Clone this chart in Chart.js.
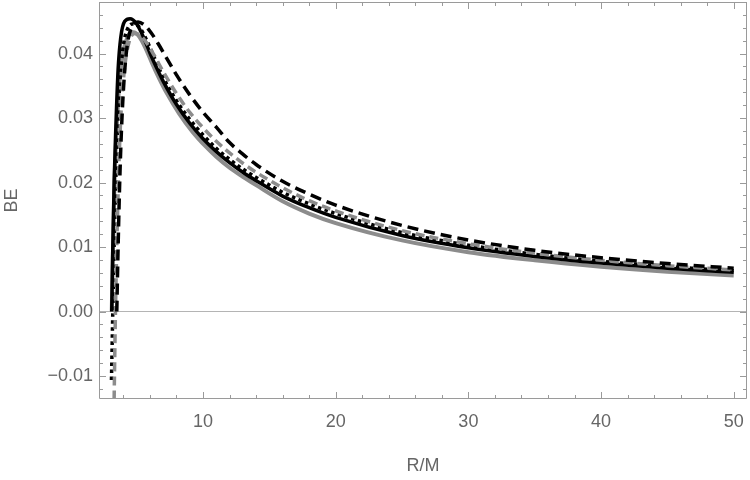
<!DOCTYPE html>
<html><head><meta charset="utf-8">
<script src="https://cdn.jsdelivr.net/npm/chart.js@4/dist/chart.umd.min.js"></script>
<style>html,body{margin:0;padding:0;background:#fff}canvas{display:block}</style>
</head><body>
<canvas id="c" width="750" height="480"></canvas>
<script>
// ---- data ----
const xTickValues = [10, 20, 30, 40, 50];
const yTickValues = [-0.01, 0.00, 0.01, 0.02, 0.03, 0.04];

// solid black
const solidBlackR  = [3.12, 3.2, 3.3, 3.42, 3.6, 3.8, 4.1, 4.5, 5, 5.5, 6, 6.5, 7, 8, 9, 10, 11, 12, 13, 14, 16, 18, 20, 25, 30, 35, 40, 45, 50];
const solidBlackBE = [0.0, 0.010, 0.020, 0.028, 0.0375, 0.0425, 0.0450, 0.0454, 0.0446, 0.0426, 0.0401, 0.0378, 0.0357, 0.0321, 0.0292, 0.0268, 0.0248, 0.0231, 0.0216, 0.0203, 0.0179, 0.0161, 0.0146, 0.0118, 0.0099, 0.00855, 0.00752, 0.00672, 0.00610];
// solid gray
const solidGrayR  = [3.12, 3.22, 3.33, 3.48, 3.7, 4.0, 4.35, 4.75, 5.2, 5.7, 6.2, 6.7, 7.2, 8.2, 9.2, 10.2, 11, 12, 13, 14, 16, 18, 20, 25, 30, 35, 40, 45, 50];
const solidGrayBE = [0.0, 0.010, 0.020, 0.028, 0.0355, 0.0405, 0.0427, 0.0433, 0.0426, 0.0407, 0.0383, 0.0361, 0.0341, 0.0307, 0.0279, 0.0256, 0.0240, 0.0223, 0.0209, 0.0196, 0.0171, 0.0152, 0.01372, 0.01103, 0.00921, 0.00795, 0.00696, 0.00618, 0.00558];
// dotted black
const dottedBlackR  = [3.1, 3.2, 3.3, 3.42, 3.55, 3.75, 4.0, 4.3, 4.7, 5.2, 5.7, 6.2, 7, 8, 9, 10, 11, 12, 13, 14, 16, 18, 20, 25, 30, 35, 40, 45, 50];
const dottedBlackBE = [-0.0106, 0.0, 0.010, 0.020, 0.028, 0.036, 0.0413, 0.0438, 0.0446, 0.0441, 0.0423, 0.0400, 0.0363, 0.0327, 0.0298, 0.0274, 0.0253, 0.0236, 0.0221, 0.0208, 0.0185, 0.0167, 0.0152, 0.01225, 0.01030, 0.00888, 0.00780, 0.00697, 0.00632];
// dashed gray
const dashedGrayR  = [3.3, 3.4, 3.5, 3.62, 3.8, 4.05, 4.4, 4.85, 5.3, 5.8, 6.3, 7, 8, 9, 10, 11, 12, 13, 14, 16, 18, 20, 25, 30, 35, 40, 45, 50];
const dashedGrayBE = [-0.0136, 0.0, 0.010, 0.020, 0.030, 0.037, 0.0416, 0.0431, 0.0428, 0.0415, 0.0398, 0.0372, 0.0338, 0.0309, 0.0285, 0.0264, 0.0246, 0.0230, 0.0216, 0.0192, 0.0172, 0.0156, 0.01255, 0.01052, 0.00905, 0.00795, 0.00710, 0.00645];
// dashed black
const dashedBlackR  = [3.5, 3.6, 3.72, 3.85, 4.05, 4.3, 4.65, 5.1, 5.6, 6.1, 6.6, 7.2, 8, 9, 10, 11, 12, 13, 14, 16, 18, 20, 25, 30, 35, 40, 45, 50];
const dashedBlackBE = [0.0, 0.010, 0.020, 0.028, 0.036, 0.0415, 0.0442, 0.0449, 0.0444, 0.0432, 0.0416, 0.0395, 0.0367, 0.0336, 0.0309, 0.0286, 0.0262, 0.0244, 0.0228, 0.0202, 0.0182, 0.0165, 0.01335, 0.0111, 0.0095, 0.00835, 0.00745, 0.00672];

// ---- chart ----
const pts = (xs, ys) => xs.map((x, i) => ({x: x, y: ys[i]}));
const FONT = '"Liberation Sans", Arial, Helvetica, sans-serif';
const TXT = '#666666';
const FRAME = '#9a9a9a';

function ds(xs, ys, color, width, dash, order) {
  return {
    data: pts(xs, ys), borderColor: color, borderWidth: width, borderDash: dash,
    borderCapStyle: 'butt', pointRadius: 0, fill: false, clip: 0,
    cubicInterpolationMode: 'monotone', order: order
  };
}

function zeroPad(s) { s.paddingTop = 0; s.paddingBottom = 0; s.paddingLeft = 0; s.paddingRight = 0; }

const framePlugin = {
  id: 'frameTicks',
  afterDraw(chart) {
    const {ctx, chartArea: a, scales: {x, y}} = chart;
    ctx.save();
    ctx.strokeStyle = FRAME;
    ctx.lineWidth = 1;
    ctx.beginPath();
    ctx.rect(Math.round(a.left) + 0.5, Math.round(a.top) + 0.5,
             Math.round(a.right) - Math.round(a.left) - 1, Math.round(a.bottom) - Math.round(a.top) - 1);
    ctx.stroke();
    ctx.beginPath();
    for (let v = 4; v <= 50; v += 2) {
      const px = Math.round(x.getPixelForValue(v)) + 0.5;
      const len = (v % 10 === 0) ? 7 : 4;
      ctx.moveTo(px, a.bottom); ctx.lineTo(px, a.bottom - len);
      ctx.moveTo(px, a.top); ctx.lineTo(px, a.top + len);
    }
    for (let k = -6; k <= 24; k++) {
      const v = k * 0.002;
      const py = Math.round(y.getPixelForValue(v)) + 0.5;
      if (py < a.top || py > a.bottom) continue;
      const len = (k % 5 === 0) ? 7 : 4;
      ctx.moveTo(a.left, py); ctx.lineTo(a.left + len, py);
      ctx.moveTo(a.right, py); ctx.lineTo(a.right - len, py);
    }
    ctx.stroke();
    ctx.restore();
  }
};

new Chart(document.getElementById('c'), {
  type: 'line',
  data: {
    datasets: [
      ds(solidGrayR, solidGrayBE, '#8c8c8c', 4, [], 5),
      ds(solidBlackR, solidBlackBE, '#000000', 3.5, [], 4),
      ds(dottedBlackR, dottedBlackBE, '#000000', 3.5, [3.5, 3.5], 3),
      ds(dashedGrayR, dashedGrayBE, '#8c8c8c', 3.5, [9, 5], 2),
      ds(dashedBlackR, dashedBlackBE, '#000000', 3.5, [11, 6], 1)
    ]
  },
  options: {
    responsive: false,
    animation: false,
    events: [],
    layout: {padding: {top: 2, right: 3, left: 0, bottom: 0}},
    plugins: {legend: {display: false}, tooltip: {enabled: false}},
    scales: {
      x: {
        type: 'linear', min: 2.16, max: 51.0,
        afterBuildTicks: s => { s.ticks = xTickValues.map(v => ({value: v})); },
        afterFit: s => { s.height = 81; zeroPad(s); },
        grid: {display: false, drawTicks: false},
        border: {display: false},
        ticks: {font: {family: FONT, size: 18}, color: TXT, padding: 12, maxRotation: 0,
                callback: v => String(v)},
        title: {display: true, text: 'R/M', font: {family: FONT, size: 18}, color: TXT,
                padding: {top: 0, bottom: 3}}
      },
      y: {
        type: 'linear', min: -0.01356, max: 0.048,
        afterBuildTicks: s => { s.ticks = yTickValues.map(v => ({value: v})); },
        afterFit: s => { s.width = 99; zeroPad(s); },
        grid: {drawTicks: false, lineWidth: 1,
               color: c => (c.tick && Math.abs(c.tick.value) < 1e-9) ? '#b4b4b4' : 'rgba(0,0,0,0)'},
        border: {display: false},
        ticks: {font: {family: FONT, size: 18}, color: TXT, padding: 6,
                callback: v => (v < -1e-9 ? '\u2212' : '') + Math.abs(v).toFixed(2)},
        title: {display: true, text: 'BE', font: {family: FONT, size: 18}, color: TXT,
                padding: {top: 1, bottom: 0}}
      }
    }
  },
  plugins: [framePlugin]
});
</script>
</body></html>
